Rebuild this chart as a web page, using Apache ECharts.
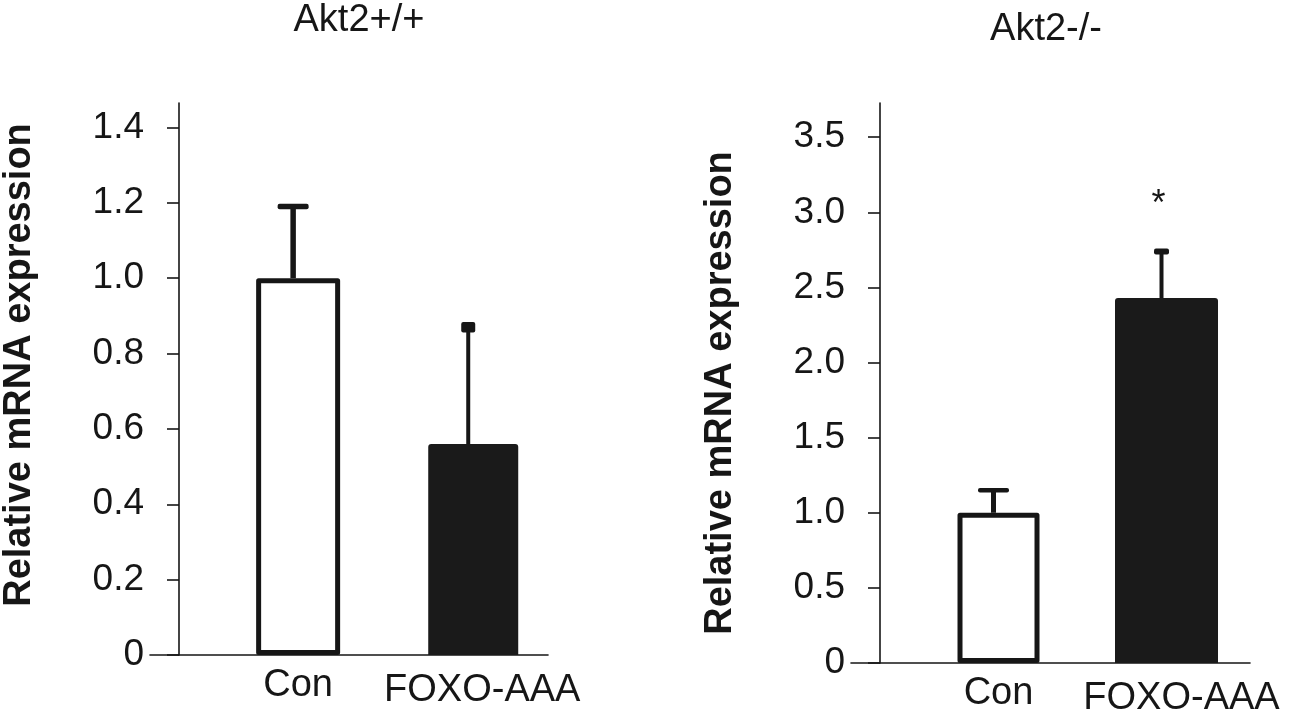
<!DOCTYPE html>
<html><head><meta charset="utf-8">
<script src="https://cdn.jsdelivr.net/npm/echarts@6/dist/echarts.min.js"></script>
<style>html,body{margin:0;padding:0;background:#fff}#c{width:1290px;height:718px}</style>
</head><body><div id="c"></div>
<script>
// ---- data ----
const categories = ['Con', 'FOXO-AAA'];
const panelTitles = ['Akt2+/+', 'Akt2-/-'];
const yAxisName = 'Relative mRNA expression';
const wtMeans = [1.0, 0.56];
const wtUpper = [1.19, 0.87];
const wtSig = ['', ''];
const koMeans = [1.0, 2.43];
const koUpper = [1.15, 2.74];
const koSig = ['', '*'];
const wtTicks = [0, 0.2, 0.4, 0.6, 0.8, 1.0, 1.2, 1.4];
const koTicks = [0, 0.5, 1.0, 1.5, 2.0, 2.5, 3.0, 3.5];

// ---- layout / style ----
const FONT = '"Liberation Sans", Arial, Helvetica, sans-serif';
const INK = '#161616';
const panels = [
  { left: 149, width: 399, top: 103, height: 552, xmin: -0.846, xmax: 1.427, ymax: 1.465,
    barW: [84, 90], capW: [31, 14], capH: [5.5, 10.5], lineW: [5.5, 4], titleX: 359, titleTop: 2,
    namePad: [0, 0, 0, 28],
    means: wtMeans, upper: wtUpper, sig: wtSig, ticks: wtTicks },
  { left: 851, width: 399, top: 103, height: 563, xmin: -0.878, xmax: 1.497, ymax: 3.728,
    barW: [82, 103], capW: [31, 15], capH: [4.5, 6], lineW: [5, 4], titleX: 1046, titleTop: 11,
    namePad: [0, 20, 0, 0],
    means: koMeans, upper: koUpper, sig: koSig, ticks: koTicks }
];
const errDx = -5;

const grid = [], xAxis = [], yAxis = [], series = [], title = [];
panels.forEach((p, k) => {
  grid.push({ left: p.left, top: p.top, width: p.width, height: p.height });
  title.push({ text: panelTitles[k], left: p.titleX, top: p.titleTop, textAlign: 'center', padding: 0,
    textStyle: { fontFamily: FONT, fontSize: 38, fontWeight: 'normal', color: INK } });
  // visible category-label axis
  xAxis.push({ type: 'value', gridIndex: k, min: p.xmin, max: p.xmax,
    axisLine: { show: true, onZero: false, lineStyle: { color: INK, width: 1.6 } },
    axisTick: { show: false }, splitLine: { show: false },
    axisLabel: { customValues: categories.map((c, i) => i), margin: 12,
      formatter: v => v === 1 ? '{f|' + categories[v] + '}' : '{c|' + categories[v] + '}',
      rich: {
        c: { fontFamily: FONT, fontSize: 38, color: INK },
        f: { fontFamily: FONT, fontSize: 38, color: INK, padding: [5, 0, 0, k === 0 ? 18 : 30] }
      } } });
  // hidden twin axis (second bar keeps its own width, centred)
  xAxis.push({ type: 'value', gridIndex: k, min: p.xmin, max: p.xmax, show: false });
  yAxis.push({ type: 'value', gridIndex: k, min: 0, max: p.ymax, offset: -29,
    name: yAxisName, nameLocation: 'middle', nameGap: 140, nameRotate: 90,
    nameTextStyle: { fontFamily: FONT, fontSize: 38, fontWeight: 'bold', color: INK, padding: p.namePad },
    axisLine: { show: true, onZero: false, lineStyle: { color: INK, width: 1.6 } },
    axisTick: { show: true, length: 12, customValues: p.ticks, lineStyle: { color: INK, width: 1.6 } },
    splitLine: { show: false },
    axisLabel: { customValues: p.ticks, margin: 35, fontFamily: FONT, fontSize: 37, color: INK,
      formatter: v => v === 0 ? '0' : v.toFixed(1) } });

  const xa = k * 2;
  series.push({ type: 'bar', xAxisIndex: xa, yAxisIndex: k, barWidth: p.barW[0],
    data: [[0, p.means[0]]], silent: true,
    itemStyle: { color: '#fff', borderColor: INK, borderWidth: 5, borderJoin: 'round' } });
  series.push({ type: 'bar', xAxisIndex: xa + 1, yAxisIndex: k, barWidth: p.barW[1],
    data: [[1, p.means[1]]], silent: true,
    itemStyle: { color: '#1a1a1a', borderRadius: [3, 3, 0, 0] } });
  series.push({ type: 'custom', xAxisIndex: xa, yAxisIndex: k, z: 5, silent: true,
    data: p.means.map((m, i) => [i, m, p.upper[i]]),
    renderItem: (params, api) => {
      const i = params.dataIndex;
      const base = api.coord([api.value(0), api.value(1)]);
      const top = api.coord([api.value(0), api.value(2)]);
      const x = base[0] + errDx;
      const children = [
        { type: 'line', shape: { x1: x, y1: base[1], x2: x, y2: top[1] },
          style: { stroke: INK, lineWidth: p.lineW[i] } },
        { type: 'rect', shape: { x: x - p.capW[i] / 2, y: top[1] - p.capH[i] / 2, width: p.capW[i], height: p.capH[i], r: 2 },
          style: { fill: INK } }
      ];
      if (p.sig[i]) {
        children.push({ type: 'text', x: x - 3, y: top[1] - 46,
          style: { text: p.sig[i], fontFamily: FONT, fontSize: 36, fill: INK, align: 'center', verticalAlign: 'middle' } });
      }
      return { type: 'group', children };
    } });
});

const chart = echarts.init(document.getElementById('c'), null, { renderer: 'canvas' });
chart.setOption({ animation: false, backgroundColor: '#fff', title, grid, xAxis, yAxis, series });
</script>
</body></html>
